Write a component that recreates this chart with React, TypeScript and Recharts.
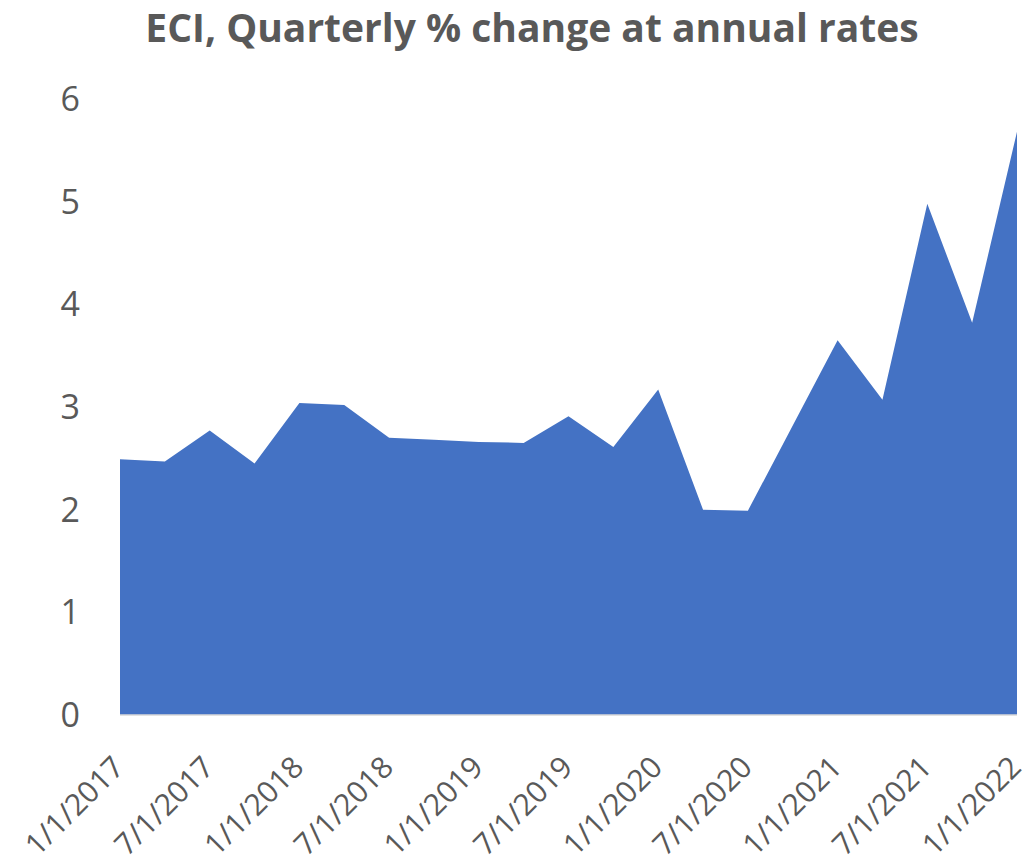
import React from "react";
import { AreaChart, Area, XAxis, YAxis } from "recharts";

const quarters = [
  "1/1/2017", "4/1/2017", "7/1/2017", "10/1/2017",
  "1/1/2018", "4/1/2018", "7/1/2018", "10/1/2018",
  "1/1/2019", "4/1/2019", "7/1/2019", "10/1/2019",
  "1/1/2020", "4/1/2020", "7/1/2020", "10/1/2020",
  "1/1/2021", "4/1/2021", "7/1/2021", "10/1/2021",
  "1/1/2022",
];
const eciValues = [
  2.49, 2.47, 2.77, 2.45,
  3.04, 3.02, 2.70, 2.68,
  2.66, 2.65, 2.91, 2.61,
  3.17, 2.00, 1.99, 2.82,
  3.65, 3.07, 4.98, 3.82,
  5.68,
];
const yTicks = [0, 1, 2, 3, 4, 5, 6];

const data = quarters.map((q, i) => ({ date: q, value: eciValues[i] }));

const FONT = "'Open Sans', 'Liberation Sans', sans-serif";
const GRAY = "#595959";

const XTick = (props: any) => {
  const { x, y, payload } = props;
  return (
    <g transform={`translate(${x + 6},${y + 46})`}>
      <text
        x={0}
        y={0}
        textAnchor="end"
        transform="rotate(-45)"
        fill={GRAY}
        fontSize={30}
        fontFamily={FONT}
      >
        {payload.value}
      </text>
    </g>
  );
};

export default function App() {
  return (
    <div style={{ position: "absolute", left: 0, top: 0, width: 1030, height: 866, background: "#fff", overflow: "hidden" }}>
      <div
        style={{
          position: "absolute",
          left: 0,
          top: 0,
          width: 1030,
          paddingLeft: 34,
          boxSizing: "border-box",
          textAlign: "center",
          fontFamily: FONT,
          fontWeight: 700,
          fontSize: 39,
          color: GRAY,
          lineHeight: "54px",
          whiteSpace: "nowrap",
        }}
      >
        ECI, Quarterly % change at annual rates
      </div>
      <AreaChart
        width={1030}
        height={866}
        data={data}
        margin={{ top: 99, right: 13, left: 0, bottom: 1 }}
      >
        <XAxis
          dataKey="date"
          interval={1}
          tickLine={false}
          axisLine={{ stroke: "#D9D9D9", strokeWidth: 1.5 }}
          tick={<XTick />}
          height={150}
        />
        <YAxis
          domain={[0, 6]}
          ticks={yTicks}
          width={120}
          axisLine={false}
          tickLine={false}
          tickSize={0}
          tickMargin={40}
          tick={{ fill: GRAY, fontSize: 34, fontFamily: FONT }}
        />
        <Area
          type="linear"
          dataKey="value"
          stroke="none"
          fill="#4472C4"
          fillOpacity={1}
          isAnimationActive={false}
        />
      </AreaChart>
    </div>
  );
}
